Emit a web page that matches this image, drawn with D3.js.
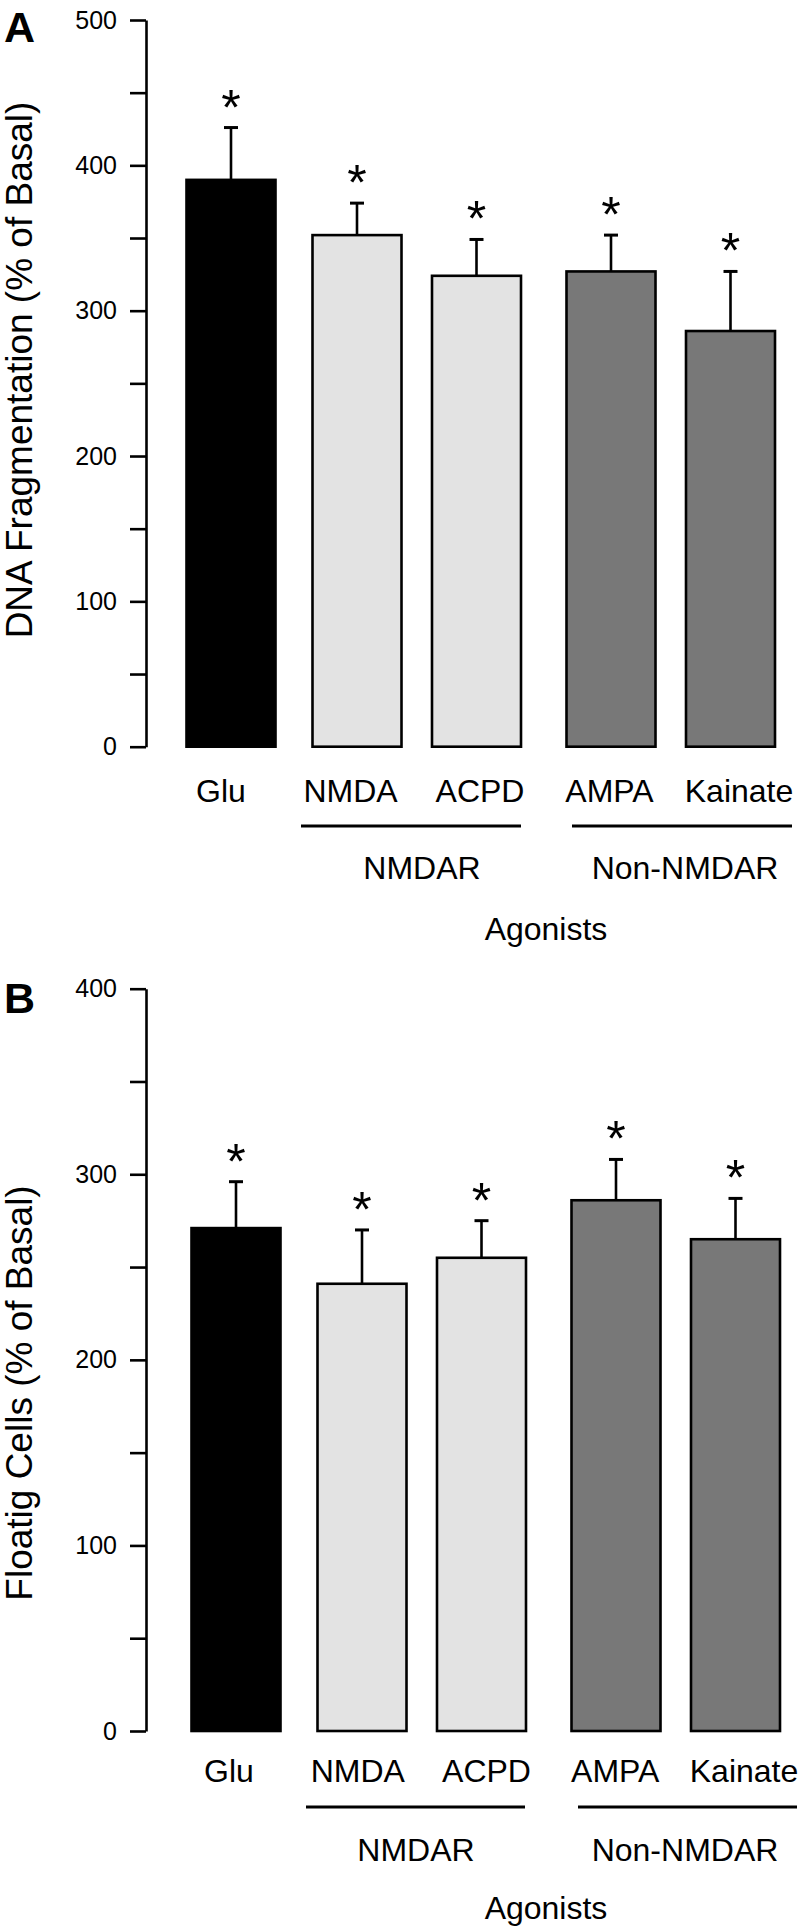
<!DOCTYPE html>
<html>
<head>
<meta charset="utf-8">
<script src="https://cdn.jsdelivr.net/npm/d3@7"></script>
<style>
  html, body { margin: 0; padding: 0; background: #fff; }
  svg { display: block; }
  text { font-family: "Liberation Sans", Arial, Helvetica, sans-serif; fill: #000; }
</style>
</head>
<body>
<script>
// ---------------- data ----------------
const categories = ["Glu", "NMDA", "ACPD", "AMPA", "Kainate"];
const receptorGroup = ["", "NMDAR", "NMDAR", "Non-NMDAR", "Non-NMDAR"];
const groupNames = ["NMDAR", "Non-NMDAR"];
const xTitle = "Agonists";

const fragMeans = [390, 352, 324, 327, 286];
const fragSEM   = [36, 22, 25, 25, 41];
const fragTicks = [0, 100, 200, 300, 400, 500];

const floatMeans = [271, 241, 255, 286, 265];
const floatSEM   = [25, 29, 20, 22, 22];
const floatTicks = [0, 100, 200, 300, 400];

const significant = [true, true, true, true, true];

// ---------------- layout / style ----------------
const W = 802, H = 1931;
const fills = { "": "#000000", "NMDAR": "#e3e3e3", "Non-NMDAR": "#787878" };

const panels = [
  {
    letter: "A", means: fragMeans, sem: fragSEM, ticks: fragTicks, yMax: 500,
    yTitle: "DNA Fragmentation (% of Basal)",
    yRange: [746.7, 20], letterY: 42,
    barStart: 231, labelRange: [221, 739],
    catY: 801.5, lineY: 826, groupY: 879, titleY: 940,
    groupLines: [[301, 521], [572, 792]], groupText: [422, 685],
    yTitleCenter: 370
  },
  {
    letter: "B", means: floatMeans, sem: floatSEM, ticks: floatTicks, yMax: 400,
    yTitle: "Floatig Cells (% of Basal)",
    yRange: [1731, 988.7], letterY: 1012.5,
    barStart: 236, labelRange: [229, 744],
    catY: 1782, lineY: 1807, groupY: 1860.5, titleY: 1918.5,
    groupLines: [[306, 525], [578, 797]], groupText: [416, 685],
    yTitleCenter: 1393
  }
];

const axisX = 146;
const barStep = 119.5;
const groupGap = [0, 6.5, 21.5];   // extra offset per receptor group (layout)
const barW = 89;
const capW = 14;

const svg = d3.select("body").append("svg")
  .attr("width", W).attr("height", H);

panels.forEach(p => {
  const g = svg.append("g");
  const y = d3.scaleLinear().domain([0, p.yMax]).range(p.yRange);

  const groupIdx = receptorGroup.map(r => r === "" ? 0 : groupNames.indexOf(r) + 1);
  const xc = i => p.barStart + i * barStep + groupGap[groupIdx[i]];
  const xl = d3.scalePoint().domain(categories).range(p.labelRange);

  // y axis
  const minor = d3.range(0, p.yMax + 1, 50);
  const axis = d3.axisLeft(y)
    .tickValues(minor)
    .tickSize(16)
    .tickSizeOuter(0)
    .tickPadding(13)
    .tickFormat(d => p.ticks.includes(d) ? d3.format("d")(d) : "");
  const ag = g.append("g").attr("transform", `translate(${axisX},0)`).call(axis);
  ag.select(".domain").attr("stroke", "#000").attr("stroke-width", 2.6);
  ag.selectAll(".tick line").attr("stroke", "#000").attr("stroke-width", 2.6);
  ag.selectAll(".tick text")
    .attr("font-size", 25)
    .attr("font-family", "'Liberation Sans', Arial, sans-serif")
    .attr("fill", "#000");

  // y title
  g.append("text")
    .attr("transform", `translate(32,${p.yTitleCenter}) rotate(-90)`)
    .attr("text-anchor", "middle")
    .attr("font-size", 37)
    .text(p.yTitle);

  // panel letter
  g.append("text")
    .attr("x", 4).attr("y", p.letterY)
    .attr("font-size", 43).attr("font-weight", "bold")
    .text(p.letter);

  // error bars
  const eg = g.append("g");
  categories.forEach((c, i) => {
    const cx = xc(i);
    const top = y(p.means[i] + p.sem[i]);
    eg.append("line")
      .attr("x1", cx).attr("x2", cx)
      .attr("y1", y(p.means[i])).attr("y2", top)
      .attr("stroke", "#000").attr("stroke-width", 2.6);
    eg.append("line")
      .attr("x1", cx - capW / 2).attr("x2", cx + capW / 2)
      .attr("y1", top).attr("y2", top)
      .attr("stroke", "#000").attr("stroke-width", 3);
    if (significant[i]) {
      eg.append("text")
        .attr("x", cx).attr("y", top - 3)
        .attr("text-anchor", "middle")
        .attr("font-family", "'Liberation Serif', 'Times New Roman', serif")
        .attr("font-size", 50)
        .text("*");
    }
  });

  // bars
  g.append("g").selectAll("rect")
    .data(categories)
    .join("rect")
    .attr("x", (d, i) => xc(i) - barW / 2)
    .attr("width", barW)
    .attr("y", (d, i) => y(p.means[i]))
    .attr("height", (d, i) => y(0) - y(p.means[i]))
    .attr("fill", (d, i) => fills[receptorGroup[i]])
    .attr("stroke", "#000")
    .attr("stroke-width", 2.6);

  // category labels
  g.append("g").selectAll("text")
    .data(categories)
    .join("text")
    .attr("x", d => xl(d))
    .attr("y", p.catY)
    .attr("text-anchor", "middle")
    .attr("font-size", 32)
    .text(d => d);

  // group lines and labels
  groupNames.forEach((name, k) => {
    g.append("line")
      .attr("x1", p.groupLines[k][0]).attr("x2", p.groupLines[k][1])
      .attr("y1", p.lineY).attr("y2", p.lineY)
      .attr("stroke", "#000").attr("stroke-width", 3);
    g.append("text")
      .attr("x", p.groupText[k]).attr("y", p.groupY)
      .attr("text-anchor", "middle")
      .attr("font-size", 32)
      .text(name);
  });

  // x title
  g.append("text")
    .attr("x", 546).attr("y", p.titleY)
    .attr("text-anchor", "middle")
    .attr("font-size", 32)
    .text(xTitle);
});
</script>
</body>
</html>
